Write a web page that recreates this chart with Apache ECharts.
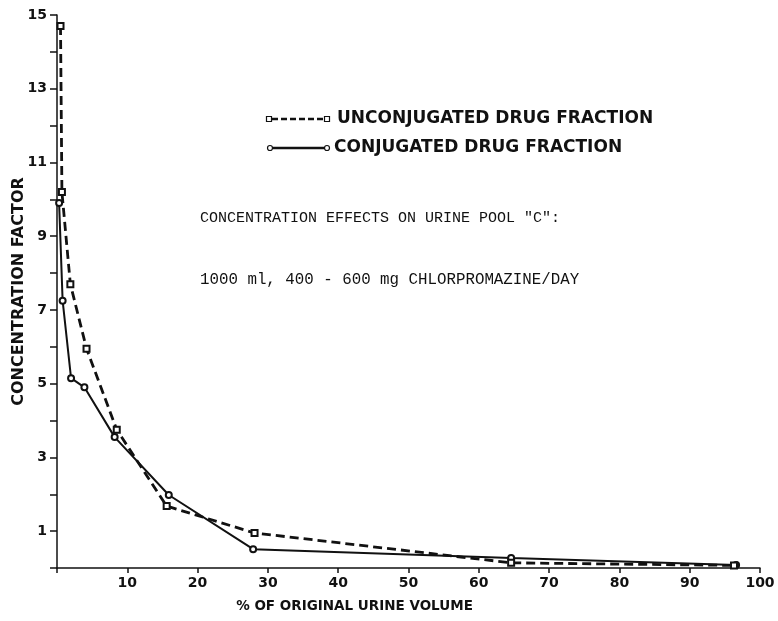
<!DOCTYPE html>
<html>
<head>
<meta charset="utf-8">
<script src="https://cdn.jsdelivr.net/npm/echarts@6/dist/echarts.min.js"></script>
<style>
  html, body { margin: 0; padding: 0; background: #fff; }
  #chart { width: 778px; height: 621px; }
</style>
</head>
<body>
<div id="chart"></div>
<script>
// values (% of original volume, concentration factor)
var unconjX = [0.5, 0.7, 1.9, 4.2, 8.5, 15.6, 28.1, 64.6, 96.3];
var unconjY = [14.7, 10.2, 7.7, 5.95, 3.75, 1.68, 0.95, 0.14, 0.07];
var conjX = [0.3, 0.8, 2.0, 3.9, 8.2, 15.9, 27.9, 64.6, 96.6];
var conjY = [9.9, 7.25, 5.15, 4.9, 3.55, 1.98, 0.51, 0.27, 0.08];
var legendNames = ['UNCONJUGATED DRUG FRACTION', 'CONJUGATED DRUG FRACTION'];
var noteLines = ['CONCENTRATION EFFECTS ON URINE POOL "C":', '1000 ml, 400 - 600 mg CHLORPROMAZINE/DAY'];

function pairs(xs, ys) {
    return xs.map(function (x, i) { return [x, ys[i]]; });
}

var ink = '#111';
var sans = 'DejaVu Sans';
var chart = echarts.init(document.getElementById('chart'));

var option = {
    backgroundColor: '#fff',
    animation: false,
    grid: { left: 57, right: 18, top: 15, bottom: 53, outerBoundsMode: 'none' },
    xAxis: {
        type: 'value',
        min: 0,
        max: 100,
        interval: 10,
        name: '% OF ORIGINAL URINE VOLUME',
        nameLocation: 'middle',
        nameGap: 31,
        nameTextStyle: { color: ink, fontFamily: sans, fontWeight: 'bold', fontSize: 13.5, padding: [0, 108, 0, 0] },
        axisLine: { lineStyle: { color: ink, width: 1.5 } },
        axisTick: { length: 5, lineStyle: { color: ink, width: 1.5 } },
        axisLabel: {
            color: ink, fontFamily: sans, fontWeight: 'bold', fontSize: 14, margin: 8,
            formatter: function (v) { return v === 0 ? '' : v; }
        },
        splitLine: { show: false }
    },
    yAxis: {
        type: 'value',
        min: 0,
        max: 15,
        interval: 1,
        name: 'CONCENTRATION FACTOR',
        nameLocation: 'middle',
        nameGap: 30,
        nameMoveOverlap: false,
        nameTextStyle: { color: ink, fontFamily: sans, fontWeight: 'bold', fontSize: 16 },
        axisLine: { lineStyle: { color: ink, width: 1.5 } },
        axisTick: { length: 7, lineStyle: { color: ink, width: 1.5 } },
        axisLabel: {
            color: ink, fontFamily: sans, fontWeight: 'bold', fontSize: 14, margin: 10,
            formatter: function (v) { return v % 2 === 1 ? v : ''; }
        },
        splitLine: { show: false }
    },
    series: [{
        name: legendNames[0],
        type: 'line',
        data: pairs(unconjX, unconjY),
        symbol: 'emptyRect',
        symbolSize: 6,
        itemStyle: { color: ink, borderWidth: 1.2 },
        lineStyle: { color: ink, width: 2.8, type: [9, 5] },
        z: 3
    }, {
        name: legendNames[1],
        type: 'line',
        data: pairs(conjX, conjY),
        symbol: 'emptyCircle',
        symbolSize: 6,
        itemStyle: { color: ink, borderWidth: 1.2 },
        lineStyle: { color: ink, width: 2 },
        z: 2
    }],
    graphic: [
        // legend, drawn by hand to get a marker at both ends of the sample
        { type: 'line', shape: { x1: 272, y1: 119, x2: 324, y2: 119 }, style: { stroke: ink, lineWidth: 2.5, lineDash: [6, 3] } },
        { type: 'rect', shape: { x: 266.5, y: 116.5, width: 5, height: 5 }, style: { fill: '#fff', stroke: ink, lineWidth: 1.2 } },
        { type: 'rect', shape: { x: 324.5, y: 116.5, width: 5, height: 5 }, style: { fill: '#fff', stroke: ink, lineWidth: 1.2 } },
        { type: 'text', left: 337, top: 110, style: { text: legendNames[0], fill: ink, font: 'bold 17px "DejaVu Sans"' } },
        { type: 'line', shape: { x1: 273, y1: 148, x2: 324, y2: 148 }, style: { stroke: ink, lineWidth: 2.5 } },
        { type: 'circle', shape: { cx: 270, cy: 148, r: 2.5 }, style: { fill: '#fff', stroke: ink, lineWidth: 1.2 } },
        { type: 'circle', shape: { cx: 327, cy: 148, r: 2.5 }, style: { fill: '#fff', stroke: ink, lineWidth: 1.2 } },
        { type: 'text', left: 334, top: 139, style: { text: legendNames[1], fill: ink, font: 'bold 17px "DejaVu Sans"' } },
        // typed annotation
        { type: 'text', left: 200, top: 211, style: { text: noteLines[0], fill: ink, font: '15px "Liberation Mono"' } },
        { type: 'text', left: 200, top: 272, style: { text: noteLines[1], fill: ink, font: '15.8px "Liberation Mono"' } }
    ]
};

chart.setOption(option);
</script>
</body>
</html>
